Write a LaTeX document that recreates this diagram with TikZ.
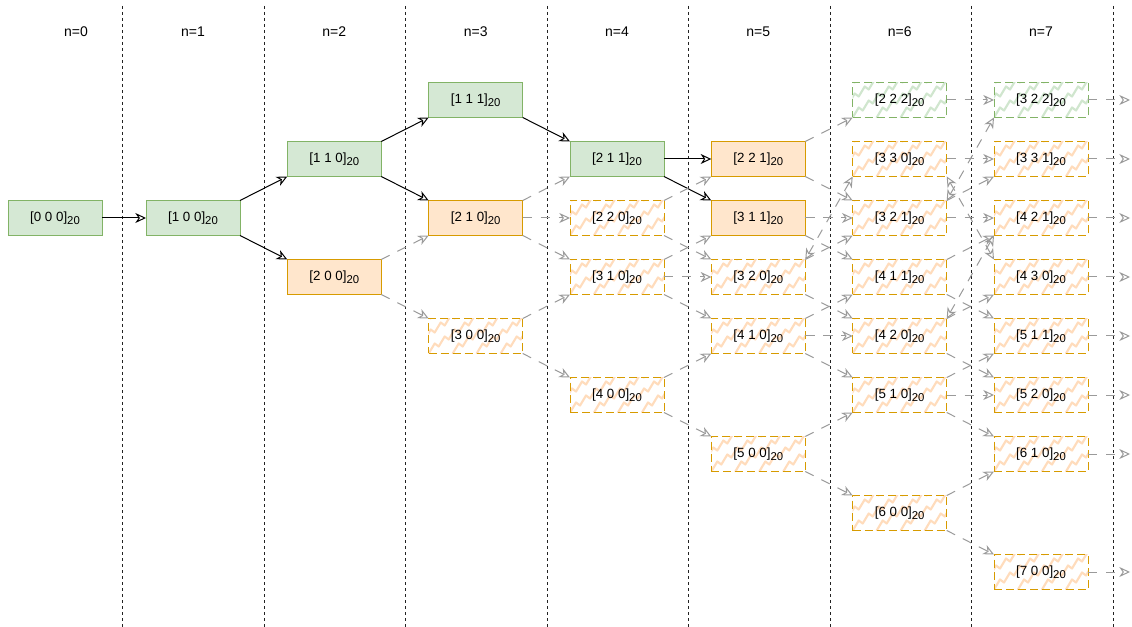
\documentclass[tikz,border=0pt]{standalone}
\usepackage{fontspec}
\setmainfont{Liberation Sans}
\usetikzlibrary{arrows.meta}

\definecolor{gfill}{HTML}{D5E8D4}
\definecolor{gline}{HTML}{82B366}
\definecolor{ofill}{HTML}{FFE6CC}
\definecolor{oline}{HTML}{D79B00}
\definecolor{ozig}{HTML}{FFDCBC}
\definecolor{gzig}{HTML}{D0E6CE}
\definecolor{edgegray}{HTML}{9A9A9A}
\definecolor{divline}{HTML}{222222}

% subscript set in the running font
\newcommand\lsub[1]{\raisebox{-0.45ex}{\fontsize{8.5}{8.5}\selectfont #1}}

\tikzset{
  x=0.75pt, y=-0.75pt,
  tipopen/.tip={Stealth[open,length=8pt,width=7.5pt,inset=2.5pt]},
  box/.style={minimum width=70.5pt, minimum height=26.25pt, inner sep=0pt, outer sep=0pt,
    line width=0.75pt, font=\fontsize{10}{12}\selectfont},
  gbox/.style={box, draw=gline, fill=gfill},
  obox/.style={box, draw=oline, fill=ofill},
  zigzag/.style={path picture={
    \foreach \s in {-72,-48,...,96}{
      \draw[#1, solid, line width=1.6pt, line join=round, line cap=round]
        ([xshift=\s*0.75pt]path picture bounding box.south west)
        \foreach \i in {1,...,5}{ -- ++(6,-10) -- ++(4,3) };
    }}},
  ohbox/.style={box, draw=oline, dash pattern=on 6pt off 3pt, zigzag=ozig},
  ghbox/.style={box, draw=gline, dash pattern=on 6pt off 3pt, zigzag=gzig},
  collabel/.style={font=\fontsize{10.5}{12}\selectfont},
  divider/.style={draw=divline, line width=0.75pt, dash pattern=on 2.25pt off 2.25pt},
  blk/.style={draw=black, line width=0.75pt, -tipopen},
  gry/.style={draw=edgegray, line width=0.75pt, dash pattern=on 7pt off 6.5pt, -tipopen},
  gry2/.style={draw=edgegray, line width=0.75pt, dash pattern=on 7pt off 6.5pt, tipopen-tipopen},
}

\begin{document}
\begin{tikzpicture}
\fill[white] (0,0) rectangle (1132,627);
\useasboundingbox (0,0) rectangle (1132,627);

% column separators
\foreach \xd in {122.5,264,405.5,547,688.5,830,971.5,1113}{
  \draw[divider] (\xd,6) -- (\xd,627);
}

% column headings
\node[collabel] (h0) at (76,32) {n=0};
\node[collabel] (h1) at (193,32) {n=1};
\node[collabel] (h2) at (334.3,32) {n=2};
\node[collabel] (h3) at (475.7,32) {n=3};
\node[collabel] (h4) at (617,32) {n=4};
\node[collabel] (h5) at (758.3,32) {n=5};
\node[collabel] (h6) at (899.7,32) {n=6};
\node[collabel] (h7) at (1041,32) {n=7};

% states
\node[gbox]  (n000) at (55,218)     {[0 0 0]\lsub{20}};
\node[gbox]  (n100) at (193,218)    {[1 0 0]\lsub{20}};

\node[gbox]  (n110) at (334.3,159)  {[1 1 0]\lsub{20}};
\node[obox]  (n200) at (334.3,277)  {[2 0 0]\lsub{20}};

\node[gbox]  (n111) at (475.7,100)  {[1 1 1]\lsub{20}};
\node[obox]  (n210) at (475.7,218)  {[2 1 0]\lsub{20}};
\node[ohbox] (n300) at (475.7,336)  {[3 0 0]\lsub{20}};

\node[gbox]  (n211) at (617,159)    {[2 1 1]\lsub{20}};
\node[ohbox] (n220) at (617,218)    {[2 2 0]\lsub{20}};
\node[ohbox] (n310) at (617,277)    {[3 1 0]\lsub{20}};
\node[ohbox] (n400) at (617,395)    {[4 0 0]\lsub{20}};

\node[obox]  (n221) at (758.3,159)  {[2 2 1]\lsub{20}};
\node[obox]  (n311) at (758.3,218)  {[3 1 1]\lsub{20}};
\node[ohbox] (n320) at (758.3,277)  {[3 2 0]\lsub{20}};
\node[ohbox] (n410) at (758.3,336)  {[4 1 0]\lsub{20}};
\node[ohbox] (n500) at (758.3,454)  {[5 0 0]\lsub{20}};

\node[ghbox] (n222) at (899.7,100)  {[2 2 2]\lsub{20}};
\node[ohbox] (n330) at (899.7,159)  {[3 3 0]\lsub{20}};
\node[ohbox] (n321) at (899.7,218)  {[3 2 1]\lsub{20}};
\node[ohbox] (n411) at (899.7,277)  {[4 1 1]\lsub{20}};
\node[ohbox] (n420) at (899.7,336)  {[4 2 0]\lsub{20}};
\node[ohbox] (n510) at (899.7,395)  {[5 1 0]\lsub{20}};
\node[ohbox] (n600) at (899.7,513)  {[6 0 0]\lsub{20}};

\node[ghbox] (n322) at (1041,100)   {[3 2 2]\lsub{20}};
\node[ohbox] (n331) at (1041,159)   {[3 3 1]\lsub{20}};
\node[ohbox] (n421) at (1041,218)   {[4 2 1]\lsub{20}};
\node[ohbox] (n430) at (1041,277)   {[4 3 0]\lsub{20}};
\node[ohbox] (n511) at (1041,336)   {[5 1 1]\lsub{20}};
\node[ohbox] (n520) at (1041,395)   {[5 2 0]\lsub{20}};
\node[ohbox] (n610) at (1041,454)   {[6 1 0]\lsub{20}};
\node[ohbox] (n700) at (1041,572)   {[7 0 0]\lsub{20}};

% open ends of the last column
\coordinate (o322) at (1130,100);
\coordinate (o331) at (1130,159);
\coordinate (o421) at (1130,218);
\coordinate (o430) at (1130,277);
\coordinate (o511) at (1130,336);
\coordinate (o520) at (1130,395);
\coordinate (o610) at (1130,454);
\coordinate (o700) at (1130,572);

% transitions taken
\draw[blk] (n000.east) -- (n100.west);
\draw[blk] (n100.north east) -- (n110.south west);
\draw[blk] (n100.south east) -- (n200.north west);
\draw[blk] (n110.north east) -- (n111.south west);
\draw[blk] (n110.south east) -- (n210.north west);
\draw[blk] (n111.south east) -- (n211.north west);
\draw[blk] (n211.east) -- (n221.west);
\draw[blk] (n211.south east) -- (n311.north west);

% other transitions
\draw[gry] (n200.north east) -- (n210.south west);
\draw[gry] (n200.south east) -- (n300.north west);

\draw[gry] (n210.north east) -- (n211.south west);
\draw[gry] (n210.east) -- (n220.west);
\draw[gry] (n210.south east) -- (n310.north west);
\draw[gry] (n300.north east) -- (n310.south west);
\draw[gry] (n300.south east) -- (n400.north west);

\draw[gry] (n220.north east) -- (n221.south west);
\draw[gry] (n220.south east) -- (n320.north west);
\draw[gry] (n310.north east) -- (n311.south west);
\draw[gry] (n310.east) -- (n320.west);
\draw[gry] (n310.south east) -- (n410.north west);
\draw[gry] (n400.north east) -- (n410.south west);
\draw[gry] (n400.south east) -- (n500.north west);

\draw[gry] (n221.north east) -- (n222.south west);
\draw[gry] (n221.south east) -- (n321.north west);
\draw[gry] (n311.east) -- (n321.west);
\draw[gry] (n311.south east) -- (n411.north west);
\draw[gry2] (n320.north east) -- (n330.south west);
\draw[gry] (n320.north east) -- (n321.south west);
\draw[gry] (n320.south east) -- (n420.north west);
\draw[gry] (n410.north east) -- (n411.south west);
\draw[gry] (n410.east) -- (n420.west);
\draw[gry] (n410.south east) -- (n510.north west);
\draw[gry] (n500.north east) -- (n510.south west);
\draw[gry] (n500.south east) -- (n600.north west);

\draw[gry] (n222.east) -- (n322.west);
\draw[gry] (n330.east) -- (n331.west);
\draw[gry2] (n330.south east) -- (n430.north west);
\draw[gry2] (n321.north east) -- (n322.south west);
\draw[gry] (n321.north east) -- (n331.south west);
\draw[gry] (n321.east) -- (n421.west);
\draw[gry] (n411.north east) -- (n421.south west);
\draw[gry] (n411.south east) -- (n511.north west);
\draw[gry2] (n420.north east) -- (n421.south west);
\draw[gry] (n420.north east) -- (n430.south west);
\draw[gry] (n420.south east) -- (n520.north west);
\draw[gry] (n510.north east) -- (n511.south west);
\draw[gry] (n510.east) -- (n520.west);
\draw[gry] (n510.south east) -- (n610.north west);
\draw[gry] (n600.north east) -- (n610.south west);
\draw[gry] (n600.south east) -- (n700.north west);

\draw[gry] (n322.east) -- (o322);
\draw[gry] (n331.east) -- (o331);
\draw[gry] (n421.east) -- (o421);
\draw[gry] (n430.east) -- (o430);
\draw[gry] (n511.east) -- (o511);
\draw[gry] (n520.east) -- (o520);
\draw[gry] (n610.east) -- (o610);
\draw[gry] (n700.east) -- (o700);
\end{tikzpicture}
\end{document}
